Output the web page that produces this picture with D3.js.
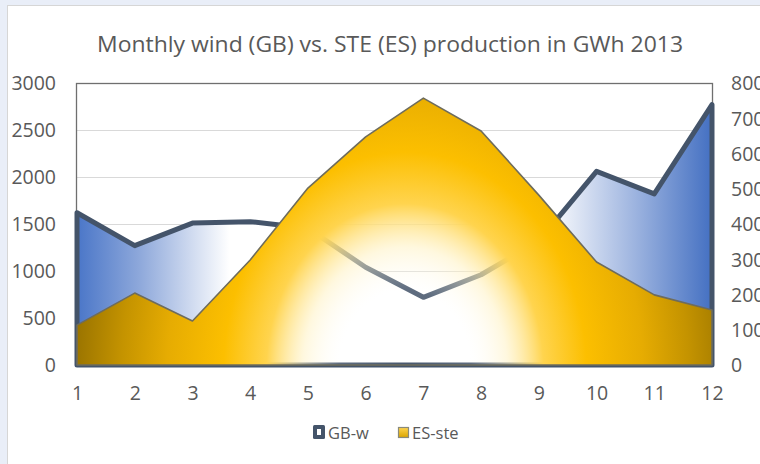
<!DOCTYPE html>
<html>
<head>
<meta charset="utf-8">
<script src="https://cdn.jsdelivr.net/npm/d3@7"></script>
<style>
  body { margin: 0; background: #e9eef8; }
  svg { display: block; }
  text { font-family: "Open Sans", sans-serif; fill: #595959; }
</style>
</head>
<body>
<script>
// months on the x axis
const months = [1, 2, 3, 4, 5, 6, 7, 8, 9, 10, 11, 12]
// GB wind, GWh (left axis)
const gbWind = [1620, 1270, 1510, 1525, 1455, 1040, 720, 960, 1320, 2060, 1820, 2770]
// ES solar thermal, GWh (right axis)
const esSte = [113, 204, 125, 298, 502, 647, 757, 664, 482, 292, 199, 156]
const leftTicks = [0, 500, 1000, 1500, 2000, 2500, 3000]
const rightTicks = [0, 100, 200, 300, 400, 500, 600, 700, 800]
const seriesNames = ["GB-w", "ES-ste"]

const W = 760, H = 464
const plot = {left: 77, right: 712, top: 83, bottom: 365}

const svg = d3.select("body").append("svg").attr("width", W).attr("height", H)
const defs = svg.append("defs")

// blue fade for the wind area, blue at both ends
const blue = defs.append("linearGradient").attr("id", "gbFill")
    .attr("gradientUnits", "userSpaceOnUse")
    .attr("x1", plot.left).attr("x2", plot.right).attr("y1", 0).attr("y2", 0)
blue.selectAll("stop")
  .data([[0, "#4a76c8"], [0.1, "#8fa9db"], [0.24, "#ffffff"], [0.74, "#ffffff"], [0.88, "#9cb3df"], [1, "#4470c2"]])
  .join("stop").attr("offset", d => d[0]).attr("stop-color", d => d[1])

// gold burst, see-through white in the middle of the bottom
const cx = 405, cy = 370
const gold = defs.append("radialGradient").attr("id", "esFill")
    .attr("gradientUnits", "userSpaceOnUse")
    .attr("cx", cx).attr("cy", cy).attr("r", 330)
    .attr("gradientTransform", `translate(${cx},${cy}) scale(1,1.2) translate(${-cx},${-cy})`)
gold.selectAll("stop")
  .data([[0, "#ffffff", 0.02], [0.2, "#ffffff", 0.14], [0.31, "#fff2c4", 0.55], [0.42, "#ffd44e", 1],
         [0.55, "#fcbf00", 1], [0.72, "#e6ac02", 1], [0.86, "#c49300", 1], [1, "#9a7400", 1]])
  .join("stop").attr("offset", d => d[0]).attr("stop-color", d => d[1]).attr("stop-opacity", d => d[2])

const legendGold = defs.append("linearGradient").attr("id", "esLeg").attr("x1", 0).attr("x2", 0).attr("y1", 0).attr("y2", 1)
legendGold.append("stop").attr("offset", 0).attr("stop-color", "#ffd44e")
legendGold.append("stop").attr("offset", 1).attr("stop-color", "#d9a400")

// chart panel
svg.append("rect").attr("x", 7.5).attr("y", 5.5).attr("width", W).attr("height", H)
    .attr("fill", "#fff").attr("stroke", "#d6d6d6")

const x = d3.scaleLinear().domain([1, 12]).range([plot.left, plot.right])
const yL = d3.scaleLinear().domain([0, 3000]).range([plot.bottom, plot.top])
const yR = d3.scaleLinear().domain([0, 800]).range([plot.bottom, plot.top])

svg.append("text").attr("x", 390).attr("y", 52).attr("text-anchor", "middle")
    .attr("font-size", 21).attr("textLength", 586).attr("lengthAdjust", "spacingAndGlyphs")
    .text("Monthly wind (GB) vs. STE (ES) production in GWh 2013")

// gridlines
svg.append("g").selectAll("line").data(leftTicks.slice(1, -1)).join("line")
    .attr("x1", plot.left).attr("x2", plot.right)
    .attr("y1", d => yL(d) + 0.5).attr("y2", d => yL(d) + 0.5)
    .attr("stroke", "#d9d9d9")

// plot border
svg.append("rect").attr("x", plot.left - 0.5).attr("y", plot.top + 0.5)
    .attr("width", plot.right - plot.left + 1).attr("height", plot.bottom - plot.top)
    .attr("fill", "none").attr("stroke", "#6f6f6f").attr("stroke-width", 1.3)

const gbArea = d3.area().x((d, i) => x(months[i])).y0(yL(0)).y1(d => yL(d))
svg.append("path").datum(gbWind).attr("d", gbArea)
    .attr("fill", "url(#gbFill)")
    .attr("stroke", "#44546a").attr("stroke-width", 5).attr("stroke-linejoin", "round")

const esArea = d3.area().x((d, i) => x(months[i])).y0(yR(0)).y1(d => yR(d))
svg.append("path").datum(esSte).attr("d", esArea)
    .attr("fill", "url(#esFill)")
    .attr("stroke", "#6e6c5c").attr("stroke-width", 1.6).attr("stroke-linejoin", "round")

// axes, no lines, just labels
const styleTicks = (g, dy) => g
    .attr("font-family", null)
    .call(g => g.select(".domain").remove())
    .call(g => g.selectAll("text").attr("font-size", 19.5).attr("fill", "#595959").attr("dy", dy))

svg.append("g").attr("transform", "translate(56,0)")
    .call(d3.axisLeft(yL).tickValues(leftTicks).tickFormat(d3.format("d")).tickSize(0).tickPadding(0))
    .call(styleTicks, "0.35em")

svg.append("g").attr("transform", "translate(731,0)")
    .call(d3.axisRight(yR).tickValues(rightTicks).tickFormat(d3.format("d")).tickSize(0).tickPadding(0))
    .call(styleTicks, "0.35em")

svg.append("g").attr("transform", "translate(0,386)")
    .call(d3.axisBottom(x).tickValues(months).tickFormat(d3.format("d")).tickSize(0).tickPadding(0))
    .call(styleTicks, "0.71em")

// legend
const legend = svg.append("g").attr("transform", "translate(313,425)")
legend.append("rect").attr("x", 0).attr("y", 0).attr("width", 12).attr("height", 14).attr("rx", 1.5).attr("fill", "#44546a")
legend.append("rect").attr("x", 4).attr("y", 4).attr("width", 4).attr("height", 6).attr("fill", "#fff")
legend.append("text").attr("x", 15).attr("y", 13.5).attr("font-size", 16.5).text(seriesNames[0])
legend.append("rect").attr("x", 85.5).attr("y", 2.5).attr("width", 10).attr("height", 10)
    .attr("fill", "url(#esLeg)").attr("stroke", "#8a8a7a").attr("stroke-width", 1.2)
legend.append("text").attr("x", 99).attr("y", 13.5).attr("font-size", 16.5).text(seriesNames[1])
</script>
</body>
</html>
